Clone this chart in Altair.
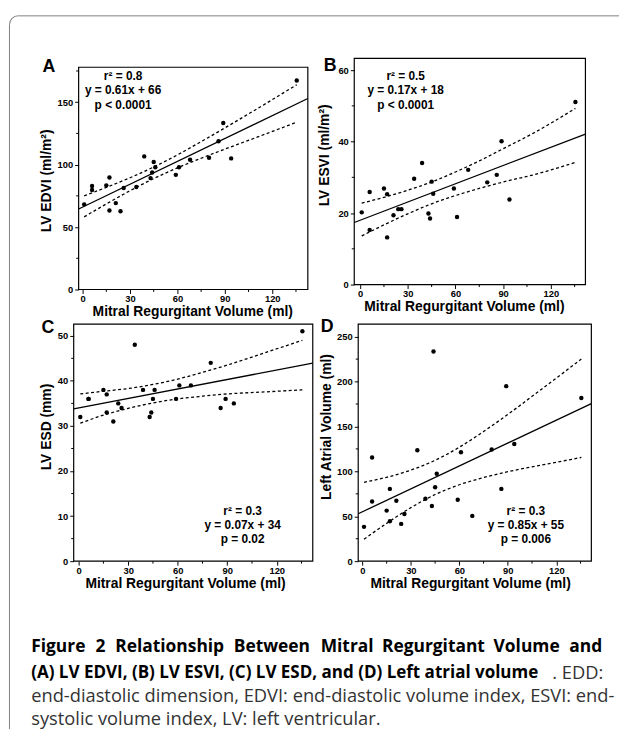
import altair as alt
import pandas as pd

# ---------------- data ----------------
mrv = [1, 6, 6, 15, 17, 17, 21, 24, 26, 34, 39, 43, 44, 45, 46, 59, 61, 68, 80, 86, 89, 94, 135.5]

edvi = [68.2, 82.9, 79.7, 83.4, 89.7, 63.2, 69.2, 62.6, 81.3, 82.1, 106.6, 89.2, 93.7, 102.1,
        97.9, 91.8, 97.9, 103.9, 105.5, 118.7, 133.4, 105.0, 167.4]
esvi = [20.2, 25.9, 15.3, 26.9, 25.3, 13.2, 19.4, 21.1, 21.1, 29.6, 34.0, 19.9, 18.5, 28.8,
        25.4, 26.9, 18.9, 32.1, 28.6, 30.7, 40.1, 23.8, 51.1]
esd = [32, 36, 36, 38, 37, 33, 31, 35, 34, 48, 38, 32, 33, 36, 38, 36, 39, 39, 44, 34, 36, 35, 51]
lav = [38.2, 115.4, 66.5, 56.3, 80.5, 44.5, 67.3, 41.5, 52.6, 123.5, 69.5, 61.4, 233.5, 82.4,
       97.4, 68.4, 121.3, 50.4, 124.3, 80.5, 194.9, 130.5, 181.6]

# 95% confidence band (dotted curves), read at these x positions
band_x = [1, 15, 30, 45, 60, 75, 90, 110, 135.5]
edvi_upper = [75.0, 81.8, 89.5, 98.1, 107.8, 118.4, 129.4, 144.4, 164.0]
edvi_lower = [58.2, 68.5, 79.1, 88.8, 97.4, 105.1, 112.4, 121.8, 134.0]
esvi_upper = [22.8, 24.4, 26.4, 28.7, 31.5, 34.6, 38.0, 42.6, 49.3]
esvi_lower = [13.6, 16.7, 19.8, 22.6, 24.9, 26.9, 28.7, 30.8, 34.2]
esd_upper = [37.1, 37.7, 38.3, 39.2, 40.4, 41.9, 43.5, 45.9, 49.0]
esd_lower = [30.6, 32.4, 33.9, 35.1, 36.0, 36.6, 37.1, 37.5, 38.0]
lav_upper = [87.8, 93.4, 101.4, 112.3, 126.9, 144.4, 163.4, 190.3, 225.0]
lav_lower = [24.5, 42.1, 59.6, 74.2, 85.1, 93.1, 99.6, 106.7, 115.5]

slopes = [0.61, 0.17, 0.07, 0.85]
intercepts = [66, 18, 34, 55]

stats_a = ["r\u00b2 = 0.8", "y = 0.61x + 66", "p < 0.0001"]
stats_b = ["r\u00b2 = 0.5", "y = 0.17x + 18", "p < 0.0001"]
stats_c = ["r\u00b2 = 0.3", "y = 0.07x + 34", "p = 0.02"]
stats_d = ["r\u00b2 = 0.3", "y = 0.85x + 55", "p = 0.006"]

x_ticks = [0, 30, 60, 90, 120]
x_minor = [15, 45, 75, 105, 135]
yt_a, ym_a = [0, 50, 100, 150], [25, 75, 125, 175]
yt_b, ym_b = [0, 20, 40, 60], [10, 30, 50]
yt_c, ym_c = [0, 10, 20, 30, 40, 50], [5, 15, 25, 35, 45]
yt_d, ym_d = [0, 50, 100, 150, 200, 250], [25, 75, 125, 175, 225]

x_title = "Mitral Regurgitant Volume (ml)"
caption_l1 = ["Figure", "2", "Relationship", "Between", "Mitral", "Regurgitant", "Volume", "and"]
caption_l2b = "(A) LV EDVI, (B) LV ESVI, (C) LV ESD, and (D) Left atrial volume"
caption_l2r = ". EDD:"
caption_l3 = "end-diastolic dimension, EDVI: end-diastolic volume index, ESVI: end-"
caption_l4 = "systolic volume index, LV: left ventricular."

SANS = "Liberation Sans, Arial, Helvetica, sans-serif"
CAP = "Open Sans, Noto Sans, sans-serif"


def panel(ys, up, lo, slope, icpt, xdom, ydom, yticks, yminor, ytitle, stats,
          w, h, fx0, fy0, ann_x, ann_y, letter, lxy, xt, yt, extra=None):
    xs = alt.Scale(domain=xdom, range=[fx0, w], nice=False, zero=False)
    yscale = alt.Scale(domain=ydom, range=[h, fy0], nice=False, zero=False)
    common = dict(domain=False, grid=False, tickSize=4, tickColor="black", tickWidth=1,
                  labelFont=SANS, labelFontSize=9.5, labelFontWeight="bold", labelColor="black",
                  labelOverlap=False, labelFlush=False, titleFont=SANS, titleFontSize=14,
                  titleFontWeight="bold", titleColor="black", titleBaseline="middle", format="d")
    xaxis = alt.Axis(values=x_ticks, title=x_title, labelPadding=0, titleX=xt[0], titleY=xt[1], **common)
    yaxis = alt.Axis(values=yticks, title=ytitle, labelPadding=2, titleX=yt[0], titleY=yt[1],
                     offset=-fx0, **common)

    def X(f):
        return alt.X(f, scale=xs, axis=xaxis)

    def Y(f):
        return alt.Y(f, scale=yscale, axis=yaxis)

    pts = pd.DataFrame({"x": mrv, "y": ys})
    points = alt.Chart(pts).mark_circle(size=20, color="black", opacity=1).encode(
        x=X("x:Q"), y=Y("y:Q"))

    fit = alt.Chart(pd.DataFrame({"x": xdom})).transform_calculate(
        y=f"{slope} * datum.x + {icpt}").mark_line(color="black", strokeWidth=1.3).encode(
        x=X("x:Q"), y=Y("y:Q"))

    band_df = pd.DataFrame({"x": band_x * 2, "y": up + lo,
                            "side": ["upper"] * len(band_x) + ["lower"] * len(band_x)})
    band = alt.Chart(band_df).mark_line(color="black", strokeWidth=1.3, strokeDash=[3, 2.5],
                                        interpolate="monotone").encode(
        x=X("x:Q"), y=Y("y:Q"), detail="side:N")

    frame = alt.Chart(pd.DataFrame({"a": [0]})).mark_rect(
        fillOpacity=0, stroke="black", strokeWidth=1.2).encode(
        x=alt.value(fx0), x2=alt.value(w), y=alt.value(fy0), y2=alt.value(h))

    xmin_t = alt.Chart(pd.DataFrame({"v": x_minor})).mark_rule(color="black", strokeWidth=1).encode(
        x=X("v:Q"), y=alt.value(h), y2=alt.value(h + 2.5))
    ymin_t = alt.Chart(pd.DataFrame({"v": yminor})).mark_rule(color="black", strokeWidth=1).encode(
        y=Y("v:Q"), x=alt.value(fx0 - 2.5), x2=alt.value(fx0))

    layers = [frame, band, fit, points, xmin_t, ymin_t]
    for i, s in enumerate(stats):
        layers.append(alt.Chart(pd.DataFrame({"a": [0]})).mark_text(
            text=s, font=SANS, fontSize=12, fontWeight="bold", color="black",
            align="center", baseline="middle").encode(
            x=alt.value(ann_x), y=alt.value(ann_y[i])))
    layers.append(alt.Chart(pd.DataFrame({"a": [0]})).mark_text(
        text=letter, font=SANS, fontSize=18, fontWeight="bold", color="black",
        align="center", baseline="middle").encode(x=alt.value(lxy[0]), y=alt.value(lxy[1])))
    if extra:
        layers += extra
    return alt.layer(*layers).properties(width=w, height=h)


one = pd.DataFrame({"a": [0]})
BORDER = "#808080"


def txt(s, x, y, font, size, weight, color, align="left"):
    return alt.Chart(one).mark_text(text=s, font=font, fontSize=size, fontWeight=weight,
                                    color=color, align=align, baseline="middle").encode(
        x=alt.value(x), y=alt.value(y))


# word starts (page x) on the justified first caption line; C panel's left edge is at 74
l1_starts = [31, 96, 116, 236, 324, 386, 499]
extra_c = [
    alt.Chart(one).mark_rule(color=BORDER, strokeWidth=1).encode(
        x=alt.value(-56), x2=alt.value(552), y=alt.value(-312)),
    alt.Chart(one).mark_rule(color=BORDER, strokeWidth=1).encode(
        x=alt.value(-65), y=alt.value(-303), y2=alt.value(410)),
    alt.Chart(one).mark_arc(color=BORDER, theta=4.712389, theta2=6.283185,
                            radius=9.5, radius2=8.5).encode(
        x=alt.value(-56), y=alt.value(-303)),
]
for word, sx in zip(caption_l1[:-1], l1_starts):
    extra_c.append(txt(word, sx - 74, 327, CAP, 17.6, "bold", "black"))
extra_c += [
    txt(caption_l1[-1], 535, 327, CAP, 17.6, "bold", "black", "right"),
    txt(caption_l2b, -43, 353, CAP, 17.2, "bold", "black"),
    txt(caption_l2r, 536, 353, CAP, 18.5, "normal", "#333333", "right"),
    txt(caption_l3, -43, 377, CAP, 18.5, "normal", "#333333"),
    txt(caption_l4, -43, 400, CAP, 18.5, "normal", "#333333"),
]

pa = panel(edvi, edvi_upper, edvi_lower, slopes[0], intercepts[0], [-2.5, 142.5], [0, 178],
           yt_a, ym_a, "LV EDVI (ml/m\u00b2)", stats_a, 237, 234, 5, 9,
           50, [17.7, 32, 47], "A", (-25, 9.3), (120, 22.5), (-32.3, 123.5))
pb = panel(esvi, esvi_upper, esvi_lower, slopes[1], intercepts[1], [-3.7, 141.8], [0, 63.3],
           yt_b, ym_b, "LV ESVI (ml/m\u00b2)", stats_b, 234, 229, 0, 0,
           52, [17.7, 32, 47], "B", (-24.3, 8.2), (111, 22.5), (-30, 97.7))
pc = panel(esd, esd_upper, esd_lower, slopes[2], intercepts[2], [-3.0, 141.8], [0, 52.6],
           yt_c, ym_c, "LV ESD (mm)", stats_c, 242, 240, 0, 0,
           171, [189.3, 203.7, 218], "C", (-26, 3.7), (112.7, 22.5), (-27.3, 103.7), extra=extra_c)
pd_ = panel(lav, lav_upper, lav_lower, slopes[3], intercepts[3], [-2.6, 141.7], [0, 264],
            yt_d, ym_d, "Left Atrial Volume (ml)", stats_d, 240, 240, 4, 0,
            173.7, [189.3, 203, 217.7], "D", (-27.3, 2.7), (117.3, 22.5), (-32, 103.7))

chart = alt.concat(pa, pb, pc, pd_, columns=2, spacing={"row": 35, "column": 42},
                   bounds="flush").properties(
    padding={"left": 0.5, "top": 2.5, "right": 0, "bottom": 0}
).configure_view(strokeWidth=0)

chart.save("out.html", embed_options={"renderer": "svg", "actions": False})
